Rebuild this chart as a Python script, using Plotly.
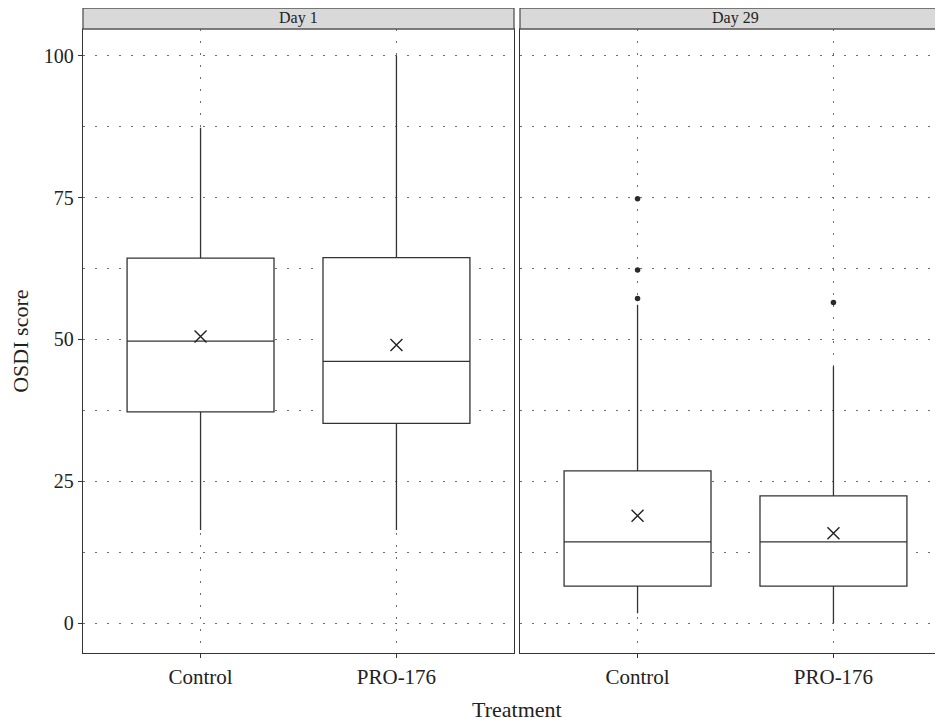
import plotly.graph_objects as go

# ---- data ----
treatments = ["Control", "PRO-176"]
days = ["Day 1", "Day 29"]

day1_q1 = [37.2, 35.2]
day1_median = [49.7, 46.1]
day1_q3 = [64.3, 64.4]
day1_lower = [16.4, 16.4]
day1_upper = [87.3, 100.0]
day1_mean = [50.5, 49.0]

day29_q1 = [6.5, 6.5]
day29_median = [14.3, 14.3]
day29_q3 = [26.8, 22.4]
day29_lower = [1.7, 0.0]
day29_upper = [56.1, 45.2]
day29_mean = [18.9, 15.8]

day29_outliers_control = [57.2, 62.2, 74.8]
day29_outliers_pro = [56.5]

y_ticks = [0, 25, 50, 75, 100]

# ---- layout constants (pixels of the target picture) ----
OFF = 8  # page body margin offset
W, H = 943 - OFF, 722 - OFF
FONT = "Liberation Serif"
LINE = "#333333"
GRID = "#6e6e6e"

def px_x(p):
    return (p - OFF) / W

def px_y(p):
    return 1 - (p - OFF) / H

fig = go.Figure()

panels = [
    (day1_q1, day1_median, day1_q3, day1_lower, day1_upper, day1_mean, [[], []], "x", "y"),
    (day29_q1, day29_median, day29_q3, day29_lower, day29_upper, day29_mean,
     [day29_outliers_control, day29_outliers_pro], "x2", "y2"),
]

for q1, med, q3, lo, hi, mn, outs, xa, ya in panels:
    for i, t in enumerate(treatments):
        xpos = i + 1
        fig.add_trace(go.Box(
            x=[xpos], q1=[q1[i]], median=[med[i]], q3=[q3[i]],
            lowerfence=[lo[i]], upperfence=[hi[i]],
            width=0.75, whiskerwidth=0, boxpoints=False,
            fillcolor="white", line=dict(color=LINE, width=1.3),
            xaxis=xa, yaxis=ya, showlegend=False, name=t, hoverinfo="skip",
        ))
        if outs[i]:
            fig.add_trace(go.Scatter(
                x=[xpos] * len(outs[i]), y=outs[i], mode="markers",
                marker=dict(size=5.5, color="#2a2a2a"),
                xaxis=xa, yaxis=ya, showlegend=False, hoverinfo="skip",
            ))
    fig.add_trace(go.Scatter(
        x=[1, 2], y=mn, mode="markers",
        marker=dict(symbol="x-thin", size=12, line=dict(color="#222222", width=1.4)),
        xaxis=xa, yaxis=ya, showlegend=False, hoverinfo="skip",
    ))

grid_dash = "2px,10px"
ydom = [px_y(653.3), px_y(29)]
yrange = [-5.34, 104.7]

common_x = dict(
    tickmode="array", tickvals=[1, 2], ticktext=treatments,
    showgrid=True, gridcolor=GRID, griddash=grid_dash, gridwidth=1,
    showline=True, linecolor=LINE, linewidth=1.3, mirror=True,
    ticks="outside", ticklen=4, tickcolor=LINE, tickwidth=1.3,
    tickfont=dict(family=FONT, size=21, color="#222222"),
    zeroline=False,
)
common_y = dict(
    range=yrange, domain=ydom, tickmode="array", tickvals=y_ticks,
    showgrid=True, gridcolor=GRID, griddash=grid_dash, gridwidth=1,
    minor=dict(tickmode="array", tickvals=[12.5, 37.5, 62.5, 87.5], showgrid=True,
               gridcolor=GRID, griddash=grid_dash, gridwidth=1),
    showline=True, linecolor=LINE, linewidth=1.3,
    zeroline=False,
)

# right panel is cut by the picture's edge: same scale as left panel
unit_px = (514 - 83) / 2.2
right_max = 0.4 + (943 - 520) / unit_px

fig.update_layout(
    width=W, height=H,
    margin=dict(l=0, r=0, t=0, b=0),
    paper_bgcolor="white", plot_bgcolor="white",
    font=dict(family=FONT, color="#222222"),
    xaxis=dict(common_x, domain=[px_x(83), px_x(514)], range=[0.4, 2.6], anchor="y"),
    xaxis2=dict(common_x, domain=[px_x(520), 1.0], range=[0.4, right_max], anchor="y2"),
    yaxis=dict(common_y, anchor="x", mirror=True, ticks="outside", ticklen=4,
               tickcolor=LINE, tickwidth=1.3,
               tickfont=dict(family=FONT, size=20, color="#222222"),
               title=dict(text="OSDI score", standoff=14,
                          font=dict(family=FONT, size=22, color="#222222"))),
    yaxis2=dict(common_y, anchor="x2", mirror=False, showticklabels=False, ticks=""),
    shapes=[
        dict(type="rect", xref="paper", yref="paper",
             x0=px_x(83), x1=px_x(514), y0=px_y(29), y1=px_y(8),
             fillcolor="#d9d9d9", line=dict(color="#555555", width=1.3), layer="above"),
        dict(type="rect", xref="paper", yref="paper",
             x0=px_x(520), x1=1.02, y0=px_y(29), y1=px_y(8),
             fillcolor="#d9d9d9", line=dict(color="#555555", width=1.3), layer="above"),
    ],
    annotations=[
        dict(text=days[0], xref="paper", yref="paper", x=px_x(298.5), y=px_y(18.5),
             showarrow=False, xanchor="center", yanchor="middle",
             font=dict(family=FONT, size=16, color="#222222")),
        dict(text=days[1], xref="paper", yref="paper", x=px_x(735), y=px_y(18.5),
             showarrow=False, xanchor="center", yanchor="middle",
             font=dict(family=FONT, size=16, color="#222222")),
        dict(text="Treatment", xref="paper", yref="paper", x=px_x(517), y=px_y(709),
             showarrow=False, xanchor="center", yanchor="middle",
             font=dict(family=FONT, size=22, color="#222222")),
    ],
)

fig.write_html("out.html")
